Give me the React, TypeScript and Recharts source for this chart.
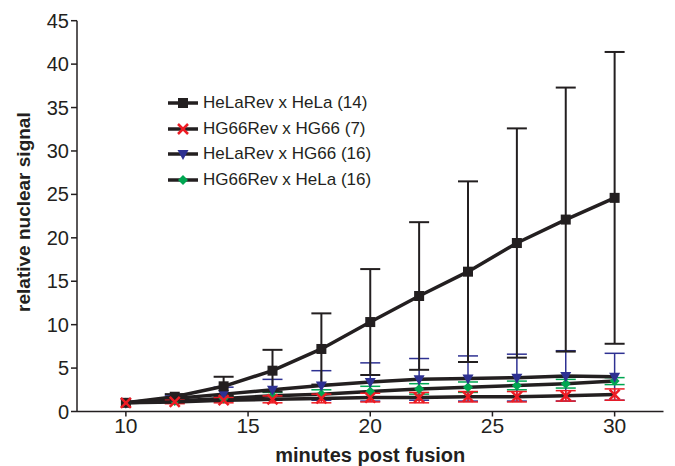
import React from 'react';
import { ErrorBar, Legend, Line, LineChart, XAxis, YAxis } from 'recharts';

const MINUTES = [10, 12, 14, 16, 18, 20, 22, 24, 26, 28, 30];

const HELAREV_HELA = [1.0, 1.7, 2.9, 4.7, 7.2, 10.3, 13.3, 16.1, 19.4, 22.1, 24.6];
const HELAREV_HELA_ERR = [0, 0.3, 1.1, 2.4, 4.1, 6.1, 8.5, 10.4, 13.2, 15.2, 16.8];

const HG66REV_HG66 = [1.0, 1.1, 1.3, 1.4, 1.5, 1.6, 1.6, 1.7, 1.7, 1.8, 1.95];
const HG66REV_HG66_ERR = [0, 0.2, 0.3, 0.4, 0.5, 0.5, 0.6, 0.6, 0.6, 0.6, 0.65];

const HELAREV_HG66 = [1.0, 1.5, 2.0, 2.5, 3.0, 3.4, 3.7, 3.8, 3.9, 4.1, 4.0];
const HELAREV_HG66_ERR = [0, 0.3, 0.8, 1.2, 1.7, 2.2, 2.4, 2.6, 2.7, 2.9, 2.7];

const HG66REV_HELA = [1.0, 1.2, 1.5, 1.8, 2.0, 2.3, 2.6, 2.8, 3.0, 3.2, 3.5];
const HG66REV_HELA_ERR = [0, 0.2, 0.3, 0.4, 0.5, 0.6, 0.6, 0.6, 0.5, 0.5, 0.4];

const X_TICKS = [10, 15, 20, 25, 30];
const Y_TICKS = [0, 5, 10, 15, 20, 25, 30, 35, 40, 45];

const INK = '#231f20';
const RED = '#ed1c24';
const BLUE = '#2e3192';
const GREEN = '#00a651';
const FONT = '"Liberation Sans", Arial, sans-serif';

const rows = MINUTES.map((t, i) => ({
  t,
  a: HELAREV_HELA[i],
  aErr: HELAREV_HELA_ERR[i],
  b: HG66REV_HG66[i],
  bErr: HG66REV_HG66_ERR[i],
  c: HELAREV_HG66[i],
  cErr: HELAREV_HG66_ERR[i],
  d: HG66REV_HELA[i],
  dErr: HG66REV_HELA_ERR[i],
}));

type Marker = 'square' | 'cross' | 'triangle' | 'diamond';

function markerShape(kind: Marker, cx: number, cy: number, key?: React.Key) {
  switch (kind) {
    case 'square':
      return <rect key={key} x={cx - 5} y={cy - 5} width={10} height={10} fill={INK} />;
    case 'cross':
      return (
        <g key={key} stroke={RED} strokeWidth={2.5}>
          <line x1={cx - 5} y1={cy - 5} x2={cx + 5} y2={cy + 5} />
          <line x1={cx - 5} y1={cy + 5} x2={cx + 5} y2={cy - 5} />
        </g>
      );
    case 'triangle':
      return (
        <polygon
          key={key}
          points={`${cx - 5.5},${cy - 4} ${cx + 5.5},${cy - 4} ${cx},${cy + 6}`}
          fill={BLUE}
        />
      );
    default:
      return (
        <polygon
          key={key}
          points={`${cx},${cy - 5} ${cx + 5},${cy} ${cx},${cy + 5} ${cx - 5},${cy}`}
          fill={GREEN}
        />
      );
  }
}

const dotFor = (kind: Marker) => (p: any) => {
  if (p.cx == null || p.cy == null) return <g key={p.index} />;
  return markerShape(kind, p.cx, p.cy, p.index);
};

// draw order: green first, red crosses last so they sit on top like the original
const SERIES: { key: string; err: string; name: string; marker: Marker; color: string; errWidth: number }[] = [
  { key: 'd', err: 'dErr', name: 'HG66Rev x HeLa (16)', marker: 'diamond', color: GREEN, errWidth: 1.5 },
  { key: 'c', err: 'cErr', name: 'HeLaRev x HG66 (16)', marker: 'triangle', color: BLUE, errWidth: 1.5 },
  { key: 'a', err: 'aErr', name: 'HeLaRev x HeLa (14)', marker: 'square', color: INK, errWidth: 2 },
  { key: 'b', err: 'bErr', name: 'HG66Rev x HG66 (7)', marker: 'cross', color: RED, errWidth: 1.5 },
];

const LEGEND_ORDER = ['a', 'b', 'c', 'd'];

function LegendBox() {
  return (
    <div style={{ fontFamily: FONT, fontSize: 17, color: INK }}>
      {LEGEND_ORDER.map((k) => {
        const s = SERIES.find((x) => x.key === k)!;
        return (
          <div key={k} style={{ display: 'flex', alignItems: 'center', height: 25.7 }}>
            <svg width={30} height={14} style={{ marginRight: 5 }}>
              <line x1={0} y1={7} x2={30} y2={7} stroke={INK} strokeWidth={3.5} />
              {markerShape(s.marker, 15, 7)}
            </svg>
            <span>{s.name}</span>
          </div>
        );
      })}
    </div>
  );
}

export default function App() {
  return (
    <div style={{ position: 'absolute', left: 0, top: 0, background: '#fff' }}>
      <LineChart
        width={675}
        height={466}
        data={rows}
        margin={{ top: 20.7, right: 11.5, bottom: 0, left: 0 }}
      >
        <XAxis
          type="number"
          dataKey="t"
          domain={[8, 32]}
          ticks={X_TICKS}
          height={54.5}
          tickSize={5}
          tickMargin={2}
          axisLine={{ stroke: INK, strokeWidth: 1.5 }}
          tickLine={{ stroke: INK, strokeWidth: 1.5 }}
          tick={{ fontSize: 21, fill: INK, fontFamily: FONT }}
          label={{
            content: (props: any) => {
              const vb = props.viewBox;
              return (
                <text
                  x={vb.x + vb.width / 2}
                  y={vb.y + 50.5}
                  textAnchor="middle"
                  fontFamily={FONT}
                  fontWeight="bold"
                  fontSize={20}
                  fill={INK}
                >
                  minutes post fusion
                </text>
              );
            },
          }}
        />
        <YAxis
          type="number"
          domain={[0, 45]}
          ticks={Y_TICKS}
          width={77}
          tickSize={6}
          tickMargin={2}
          axisLine={{ stroke: INK, strokeWidth: 1.5 }}
          tickLine={{ stroke: INK, strokeWidth: 1.5 }}
          tick={{ fontSize: 20, fill: INK, fontFamily: FONT }}
          label={{
            content: (props: any) => {
              const vb = props.viewBox;
              const cy = vb.y + vb.height / 2 - 4;
              return (
                <text
                  x={30}
                  y={cy}
                  transform={`rotate(-90 30 ${cy})`}
                  textAnchor="middle"
                  fontFamily={FONT}
                  fontWeight="bold"
                  fontSize={19}
                  fill={INK}
                >
                  relative nuclear signal
                </text>
              );
            },
          }}
        />
        {/* horizontal + middle + center: recharts reserves no margin for it */}
        <Legend
          layout="horizontal"
          verticalAlign="middle"
          align="center"
          content={() => <LegendBox />}
          wrapperStyle={{ position: 'absolute', left: 168, top: 90, width: 'auto', height: 'auto' }}
        />
        {SERIES.map((s) => (
          <Line
            key={s.key}
            type="linear"
            dataKey={s.key}
            name={s.name}
            stroke={INK}
            strokeWidth={3.5}
            dot={dotFor(s.marker)}
            activeDot={false}
            isAnimationActive={false}
          >
            <ErrorBar
              dataKey={s.err}
              direction="y"
              width={10}
              stroke={s.color}
              strokeWidth={s.errWidth}
              isAnimationActive={false}
            />
          </Line>
        ))}
      </LineChart>
    </div>
  );
}
